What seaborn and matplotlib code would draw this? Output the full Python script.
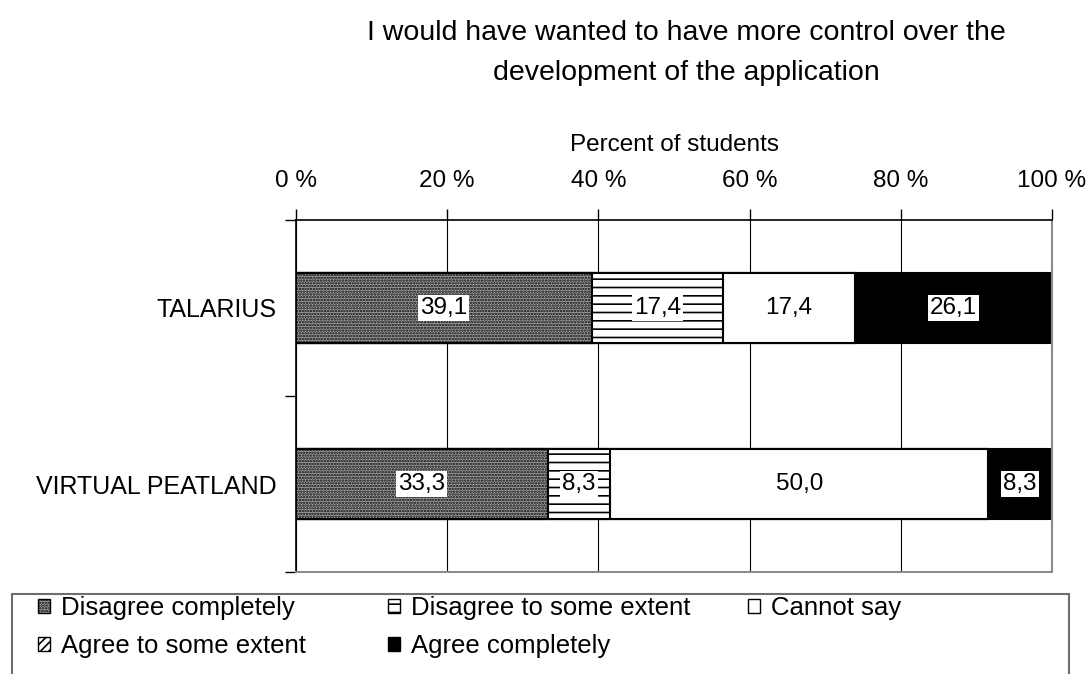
import matplotlib
matplotlib.use("Agg")
import matplotlib.pyplot as plt
from matplotlib.patches import Patch, Rectangle
import numpy as np
import pandas as pd
import seaborn as sns

# Survey responses, percent of students per project
projects = ["TALARIUS", "VIRTUAL PEATLAND"]
responses = ["Disagree completely", "Disagree to some extent", "Cannot say",
             "Agree to some extent", "Agree completely"]
disagree_completely = [39.1, 33.3]
disagree_some = [17.4, 8.3]
cannot_say = [17.4, 50.0]
agree_some = [0.0, 0.0]
agree_completely = [26.1, 8.3]
x_ticks = [0, 20, 40, 60, 80, 100]

series = [disagree_completely, disagree_some, cannot_say, agree_some, agree_completely]
styles = {
    "Disagree completely": dict(facecolor="#a6a6a6", hatch="......"),
    "Disagree to some extent": dict(facecolor="white", hatch="--"),
    "Cannot say": dict(facecolor="white", hatch=""),
    "Agree to some extent": dict(facecolor="white", hatch="////"),
    "Agree completely": dict(facecolor="black", hatch=""),
}

sns.set_theme(style="white")
plt.rcParams["font.family"] = ["Liberation Sans", "DejaVu Sans"]
plt.rcParams["hatch.linewidth"] = 1.2
for key in ["text.color", "axes.labelcolor", "xtick.color", "ytick.color"]:
    plt.rcParams[key] = "black"

FS = 17.5

df = pd.DataFrame({r: v for r, v in zip(responses, series)}, index=projects)
cum = df.cumsum(axis=1)

W, H = 1090, 674
fig = plt.figure(figsize=(W / 100, H / 100), dpi=100)
ax = fig.add_axes([296 / W, 1 - 572 / H, (1052 - 296) / W, (572 - 220) / H])

# Stacked bars: draw cumulative totals from the outermost segment inward
for resp in reversed(responses):
    st = styles[resp]
    plot_df = pd.DataFrame({"project": projects, "value": cum[resp].values})
    sns.barplot(data=plot_df, x="value", y="project", orient="h", ax=ax,
                color=st["facecolor"], width=0.4, saturation=1,
                edgecolor="black", linewidth=1.5)
    for p in ax.patches[-len(projects):]:
        p.set_facecolor(st["facecolor"])
        p.set_hatch(st["hatch"])
        p.set_edgecolor("black")

# Value labels centred in each segment
for resp in responses:
    vals = df[resp].values
    ends = cum[resp].values
    for i, (v, e) in enumerate(zip(vals, ends)):
        if v <= 0:
            continue
        ax.text(e - v / 2, i, f"{v:.1f}".replace(".", ","), ha="center", va="center",
                fontsize=FS, color="black",
                bbox=dict(boxstyle="square,pad=0.08", facecolor="white", edgecolor="none"))

ax.set_xlim(0, 100)
ax.set_ylim(1.5, -0.5)
ax.set_xticks(x_ticks)
ax.set_xticklabels([f"{t} %" for t in x_ticks])
ax.xaxis.tick_top()
ax.xaxis.set_label_position("top")
ax.set_xlabel("Percent of students", fontsize=FS, labelpad=14)
ax.set_ylabel("")
ax.tick_params(axis="x", top=True, bottom=False, length=8, width=1, color="black",
               labelsize=FS, pad=12, direction="out")
ax.set_yticks([0, 1])
ax.set_yticks([-0.5, 0.5, 1.5], minor=True)
ax.tick_params(axis="y", which="major", left=False, labelsize=18, pad=8)
ax.tick_params(axis="y", which="minor", left=True, length=8, width=1, color="black",
               direction="out")
ax.grid(axis="x", color="black", linewidth=0.8)
ax.set_axisbelow(True)
for side in ["top", "left"]:
    ax.spines[side].set_color("black")
    ax.spines[side].set_linewidth(1.2)
for side in ["right", "bottom"]:
    ax.spines[side].set_color("#8c8c8c")
    ax.spines[side].set_linewidth(1.5)

# Two-line title
title_lines = ["I would have wanted to have more control over the",
               "development of the application"]
for line, base in zip(title_lines, [40, 80]):
    fig.text(686 / W, 1 - base / H, line, ha="center", va="baseline", fontsize=20.5,
             color="black")

# Legend box spanning the figure width, entries laid out row by row
frame = Rectangle((12 / W, -0.05), (1069 - 12) / W, 0.05 + (H - 594) / H,
                  transform=fig.transFigure, facecolor="white", edgecolor="#6e6e6e",
                  linewidth=1.5, zorder=0)
fig.patches.append(frame)

handles = {r: Patch(facecolor=styles[r]["facecolor"], hatch=styles[r]["hatch"],
                    edgecolor="black", linewidth=1.0, label=r) for r in responses}
columns = [(["Disagree completely", "Agree to some extent"], 38),
           (["Disagree to some extent", "Agree completely"], 388),
           (["Cannot say"], 748)]
for labels, x0 in columns:
    fig.legend([handles[r] for r in labels], labels, loc="upper left",
               bbox_to_anchor=(x0 / W, 1 - 596 / H), frameon=False, fontsize=18.5,
               handlelength=0.45, handleheight=0.45, handletextpad=0.45,
               labelspacing=0.55, borderpad=0, borderaxespad=0)

fig.savefig("out.png", dpi=100)
